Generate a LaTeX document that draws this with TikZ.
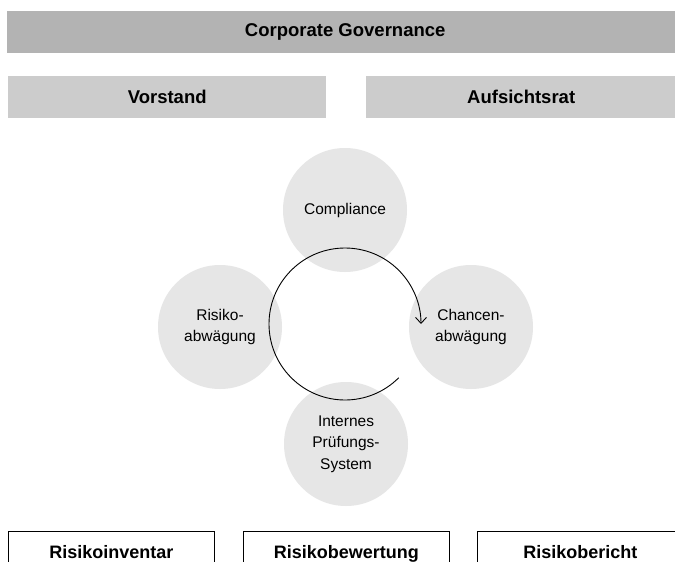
\documentclass[tikz,border=0pt]{standalone}
\usepackage{fontspec}
\setmainfont{Liberation Sans}
\usetikzlibrary{arrows.meta}
\definecolor{barDark}{HTML}{B3B3B3}
\definecolor{barLight}{HTML}{CCCCCC}
\definecolor{circleGray}{HTML}{E6E6E6}
\begin{document}
\begin{tikzpicture}[x=1pt,y=1pt,
  barbox/.style={fill=#1, draw=none, anchor=north west, inner sep=0pt,
    font=\fontsize{18.5}{21}\selectfont\bfseries, text=black},
  topic/.style={circle, fill=circleGray, draw=none, minimum size=124pt, inner sep=0pt,
    align=center, font=\fontsize{15.5}{21.5}\selectfont, text=black},
  outbox/.style={draw=black, line width=0.9pt, fill=white, anchor=north west, inner sep=0pt,
    minimum width=206pt, minimum height=40pt, text depth=0pt,
    font=\fontsize{18}{21}\selectfont\bfseries},
  cycle/.style={line width=0.9pt, -{Straight Barb[length=6pt,width=11pt,line width=0.9pt]}}
]
\clip (0,0) rectangle (675,-562);
\fill[white] (0,0) rectangle (675,-562);

% header bars
\node[barbox=barDark, minimum width=676pt, minimum height=42pt] (cg) at (7,-11) {Corporate Governance};
\node[barbox=barLight, minimum width=318pt, minimum height=42pt] (vs) at (8,-76) {Vorstand};
\node[barbox=barLight, minimum width=310pt, minimum height=42pt] (ar) at (366,-76) {Aufsichtsrat};

% circles
\node[topic] (comp) at (345,-210) {Compliance};
\node[topic] (risk) at (220,-327) {Risiko-\\abwägung};
\node[topic] (chan) at (471,-327) {Chancen-\\abwägung};
\node[topic] (ips)  at (346,-444) {Internes\\Prüfungs-\\System};

% cycle arrow
\coordinate (cyc) at (345,-324);
\draw[cycle] ([shift={(-45:76)}]cyc) arc[start angle=-45, end angle=-360, radius=76];

% bottom boxes
\node[outbox] (inv) at (8,-531) {\raisebox{-2pt}{Risikoinventar}};
\node[outbox] (bew) at (243,-531) {\raisebox{-2pt}{Risikobewertung}};
\node[outbox] (ber) at (477,-531) {\raisebox{-2pt}{Risikobericht}};
\end{tikzpicture}
\end{document}
